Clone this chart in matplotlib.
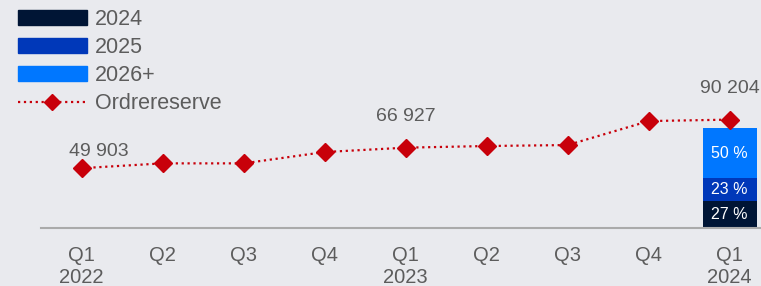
import numpy as np
import matplotlib.pyplot as plt
from matplotlib.patches import Patch
from matplotlib.lines import Line2D

plt.rcParams['font.family'] = ['Liberation Sans', 'DejaVu Sans']

# data
quarters = ['Q1\n2022', 'Q2', 'Q3', 'Q4', 'Q1\n2023', 'Q2', 'Q3', 'Q4', 'Q1\n2024']
order_backlog = [49903, 53900, 53900, 63300, 66927, 68300, 69100, 89000, 90204]
labelled = {0: '49 903', 4: '66 927', 8: '90 204'}
label_offsets = {0: (12, 9), 4: (0, 19.5), 8: (0, 19.5)}

split_names = ['2024', '2025', '2026+']
split_shares = [27, 23, 50]
split_colors = ['#001535', '#0038b9', '#0077ff']

bg = '#e9eaee'
red = '#c8000a'
grey = '#5c5c5c'

fig = plt.figure(figsize=(7.61, 2.86), dpi=100, facecolor=bg)
ax = fig.add_axes([41 / 761, 57.7 / 286, 720 / 761, 228.3 / 286])
ax.set_facecolor(bg)
ax2 = ax.twinx()

x = np.arange(len(quarters))

# stacked share bar for the last quarter (separate scale, 100 % = 100 px)
bottom = 0
for name, share, col in zip(split_names, split_shares, split_colors):
    ax2.bar(x[-1], share, bottom=bottom, width=0.667, color=col, zorder=1)
    ax2.text(x[-1], bottom + share / 2, f'{share} %', ha='center', va='center',
             color='white', fontsize=11.5)
    bottom += share
ax2.set_ylim(0, 228.3)
ax2.axis('off')

ax.set_zorder(ax2.get_zorder() + 1)
ax.patch.set_visible(False)
ax.plot(x, order_backlog, linestyle=':', lw=1.6, color=red, marker='D',
        markersize=9, zorder=3)
for i, txt in labelled.items():
    ax.annotate(txt, (x[i], order_backlog[i]), xytext=label_offsets[i],
                textcoords='offset points', ha='center', va='baseline',
                fontsize=14, color=grey)

ax.set_xlim(-0.502, 8.386)
ax.set_ylim(0, 228.3 * 830)
ax.set_xticks(x)
ax.set_xticklabels(quarters, fontsize=14.5, color=grey, linespacing=1.2)
ax.tick_params(axis='x', length=0, pad=13)
ax.set_yticks([])
for s in ['top', 'right', 'left']:
    ax.spines[s].set_visible(False)
ax.spines['bottom'].set_color('#aaaaaa')
ax.spines['bottom'].set_linewidth(1.5)

handles = [Patch(color=c, label=n) for n, c in zip(split_names, split_colors)]
handles.append(Line2D([], [], linestyle=':', lw=1.6, color=red, marker='D',
                      markersize=8, label='Ordrereserve'))
fig.legend(handles=handles, loc='upper left', bbox_to_anchor=(18 / 761, 1 - 9 / 286),
           frameon=False, fontsize=15.5, borderpad=0, borderaxespad=0,
           handlelength=3.2, handleheight=0.72, handletextpad=0.38,
           labelspacing=0.33, labelcolor=grey)

fig.savefig('out.png', dpi=100, facecolor=bg)
